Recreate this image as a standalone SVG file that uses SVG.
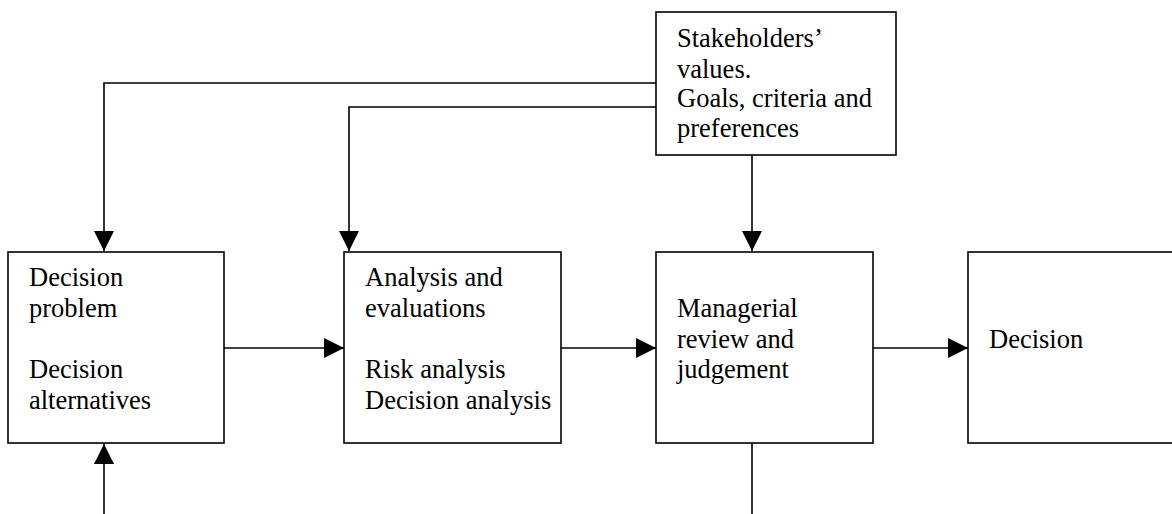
<svg xmlns="http://www.w3.org/2000/svg" width="1172" height="514" viewBox="0 0 1172 514">
<defs>
<style>
.box{fill:#fff;stroke:#000;stroke-width:1.6}
.ln{fill:none;stroke:#000;stroke-width:1.6}
.t{font-family:"Liberation Serif","Times New Roman",serif;font-size:26.5px;fill:#000}
</style>
<marker id="ah" markerUnits="userSpaceOnUse" markerWidth="20" markerHeight="20" viewBox="0 0 20 20" refX="20" refY="10" orient="auto">
<path d="M0,0 L20,10 L0,20 Z" fill="#000"/>
</marker>
</defs>
<rect width="1172" height="514" fill="#fff"/>
<g id="connectors">
<polyline class="ln" points="656,83 104,83 104,251" marker-end="url(#ah)"/>
<polyline class="ln" points="656,107 349,107 349,251" marker-end="url(#ah)"/>
<line class="ln" x1="752" y1="155" x2="752" y2="251" marker-end="url(#ah)"/>
<line class="ln" x1="224" y1="348" x2="344" y2="348" marker-end="url(#ah)"/>
<line class="ln" x1="561" y1="348" x2="656" y2="348" marker-end="url(#ah)"/>
<line class="ln" x1="873" y1="348" x2="968" y2="348" marker-end="url(#ah)"/>
<line class="ln" x1="104" y1="514" x2="104" y2="444" marker-end="url(#ah)"/>
<line class="ln" x1="752" y1="443" x2="752" y2="514"/>
</g>
<g id="stakeholders">
<rect class="box" x="656" y="12" width="240" height="143"/>
<text class="t" x="677" y="47">Stakeholders’</text>
<text class="t" x="677" y="78">values.</text>
<text class="t" x="677" y="107">Goals, criteria and</text>
<text class="t" x="677" y="137">preferences</text>
</g>
<g id="decision-problem">
<rect class="box" x="8" y="252" width="216" height="191"/>
<text class="t" x="29" y="286">Decision</text>
<text class="t" x="29" y="317">problem</text>
<text class="t" x="29" y="378">Decision</text>
<text class="t" x="29" y="409">alternatives</text>
</g>
<g id="analysis">
<rect class="box" x="344" y="252" width="217" height="191"/>
<text class="t" x="365" y="286">Analysis and</text>
<text class="t" x="365" y="317">evaluations</text>
<text class="t" x="365" y="378">Risk analysis</text>
<text class="t" x="365" y="409">Decision analysis</text>
</g>
<g id="managerial">
<rect class="box" x="656" y="252" width="217" height="191"/>
<text class="t" x="677" y="317">Managerial</text>
<text class="t" x="677" y="348">review and</text>
<text class="t" x="677" y="378">judgement</text>
</g>
<g id="decision">
<rect class="box" x="968" y="252" width="220" height="191"/>
<text class="t" x="989" y="348">Decision</text>
</g>
</svg>
